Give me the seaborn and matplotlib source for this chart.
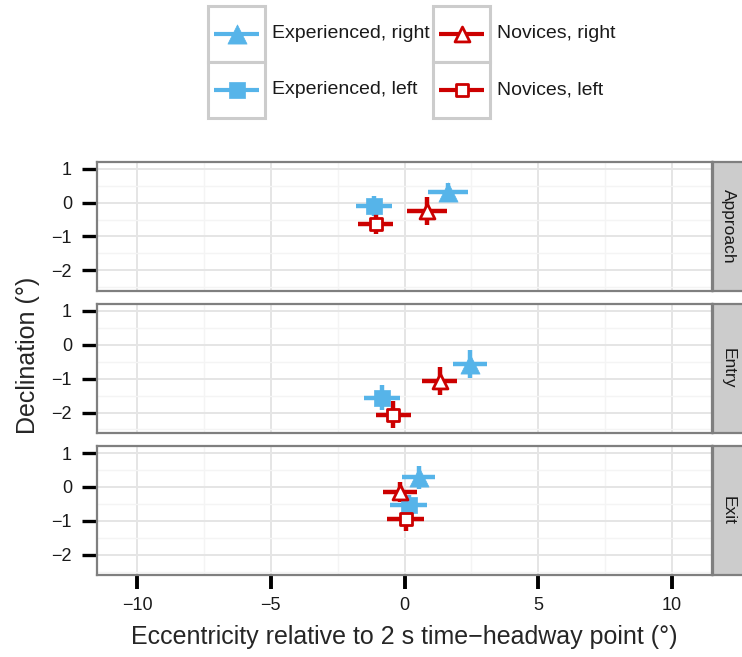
import numpy as np
import pandas as pd
import matplotlib.pyplot as plt
import seaborn as sns
from matplotlib.patches import Rectangle

# values (degrees): mean +/- error per group and phase
phase = ["Approach", "Approach", "Approach", "Approach",
         "Entry", "Entry", "Entry", "Entry",
         "Exit", "Exit", "Exit", "Exit"]
group = ["Experienced, right", "Experienced, left", "Novices, right", "Novices, left"] * 3
eccentricity = [1.63, -1.13, 0.85, -1.08,
                2.44, -0.83, 1.32, -0.42,
                0.53, 0.16, -0.17, 0.04]
ecc_err = [0.75, 0.67, 0.75, 0.66,
           0.64, 0.67, 0.65, 0.65,
           0.62, 0.69, 0.62, 0.68]
declination = [0.30, -0.10, -0.24, -0.63,
               -0.57, -1.56, -1.07, -2.07,
               0.29, -0.54, -0.15, -0.96]
decl_err = [0.28, 0.30, 0.42, 0.31,
            0.42, 0.37, 0.40, 0.40,
            0.34, 0.30, 0.30, 0.35]

phases = ["Approach", "Entry", "Exit"]
groups = ["Experienced, right", "Experienced, left", "Novices, right", "Novices, left"]
x_ticks = [-10, -5, 0, 5, 10]
y_ticks = [1, 0, -1, -2]

df = pd.DataFrame({"phase": phase, "group": group, "ecc": eccentricity,
                   "ecc_err": ecc_err, "decl": declination, "decl_err": decl_err})

BLUE = "#56B4E9"
RED = "#CC0000"
# group -> (colour, marker, face colour, size)
styles = {
    "Experienced, right": (BLUE, "^", BLUE, 190),
    "Experienced, left": (BLUE, "s", BLUE, 125),
    "Novices, right": (RED, "^", "white", 115),
    "Novices, left": (RED, "s", "white", 85),
}

sns.set_theme(style="white")
plt.rcParams["font.family"] = ["Liberation Sans", "DejaVu Sans"]

fig = plt.figure(figsize=(7.42, 6.57), dpi=100)
gs = fig.add_gridspec(3, 1, left=97 / 742, right=712 / 742,
                      top=1 - 162 / 657, bottom=1 - 575 / 657, hspace=0.105)
axes = []
for i in range(3):
    ax = fig.add_subplot(gs[i], sharex=axes[0] if axes else None)
    axes.append(ax)

for i, (ax, ph) in enumerate(zip(axes, phases)):
    sub = df[df["phase"] == ph]
    # error bars first, then points on top
    for g in groups:
        row = sub[sub["group"] == g]
        col = styles[g][0]
        ax.errorbar(row["ecc"], row["decl"], xerr=row["ecc_err"], yerr=row["decl_err"],
                    fmt="none", ecolor=col, elinewidth=3.2, capsize=0, zorder=3)
    for g in groups:
        row = sub[sub["group"] == g]
        col, mk, face, size = styles[g]
        sns.scatterplot(data=row, x="ecc", y="decl", marker=mk, s=size, color=col,
                        facecolor=face, edgecolor=col,
                        linewidth=2 if face == "white" else 0.5,
                        legend=False, zorder=4, ax=ax)

    ax.set_xlim(-11.5, 11.5)
    ax.set_ylim(-2.6, 1.2)
    ax.set_xticks(x_ticks)
    ax.set_xticks([-7.5, -2.5, 2.5, 7.5], minor=True)
    ax.set_yticks(y_ticks)
    ax.set_yticks([0.5, -0.5, -1.5, -2.5], minor=True)
    ax.set_yticklabels([str(t).replace("-", "\u2212") for t in y_ticks])
    ax.grid(which="major", color="#E5E5E5", linewidth=1.4, zorder=0)
    ax.grid(which="minor", color="#F4F4F4", linewidth=1.0, zorder=0)
    ax.set_axisbelow(True)
    ax.set_xlabel("")
    ax.set_ylabel("")
    for sp in ax.spines.values():
        sp.set_color("#7F7F7F")
        sp.set_linewidth(1.6)
    ax.tick_params(which="minor", length=0)
    ax.tick_params(axis="y", which="major", length=11, width=2.4, color="black",
                   labelsize=13, labelcolor="#1A1A1A", pad=7, left=True)
    if i < 2:
        ax.tick_params(axis="x", which="major", bottom=False, labelbottom=False)
    else:
        ax.set_xticklabels([str(t).replace("-", "\u2212") for t in x_ticks])
        ax.tick_params(axis="x", which="major", length=10, width=2.8, color="black",
                       labelsize=13, labelcolor="#1A1A1A", pad=6, bottom=True)

    # facet strip on the right
    pos = ax.get_position()
    sax = fig.add_axes([pos.x1 + 1 / 742, pos.y0, 34 / 742, pos.height])
    sax.set_facecolor("#CCCCCC")
    sax.set_xticks([])
    sax.set_yticks([])
    for sp in sax.spines.values():
        sp.set_color("#7F7F7F")
        sp.set_linewidth(1.6)
    sax.text(0.45, 0.5, ph, rotation=270, ha="center", va="center",
             fontsize=12.5, color="#1A1A1A", transform=sax.transAxes)

fig.text(28 / 742, 1 - 355 / 657, "Declination (°)", rotation=90,
         ha="center", va="center", fontsize=18)
fig.text(404 / 742, 1 - 637 / 657, "Eccentricity relative to 2 s time\u2212headway point (°)",
         ha="center", va="center", fontsize=18)

# legend drawn in pixel coordinates at the top
lax = fig.add_axes([0, 1 - 125 / 657, 1, 125 / 657])
lax.set_xlim(0, 742)
lax.set_ylim(125, 0)
lax.axis("off")
key_x = [208, 433]
key_y = [6, 62]
for j, g in enumerate(groups):
    c = 0 if j < 2 else 1
    r = j % 2
    col, mk, face, size = styles[g]
    x0, y0 = key_x[c], key_y[r]
    lax.add_patch(Rectangle((x0, y0), 57, 56, facecolor="white",
                            edgecolor="#CCCCCC", linewidth=2.2))
    yc = y0 + 28
    lax.plot([x0 + 6, x0 + 51], [yc, yc], color=col, linewidth=3, solid_capstyle="butt")
    lax.scatter([x0 + 28.5], [yc], marker=mk, s=size, color=col, facecolor=face,
                edgecolor=col, linewidth=2 if face == "white" else 0.5, zorder=3)
    lax.text(x0 + 64, yc, g, ha="left", va="center", fontsize=14, color="#1A1A1A")

fig.savefig("out.png", dpi=100)
